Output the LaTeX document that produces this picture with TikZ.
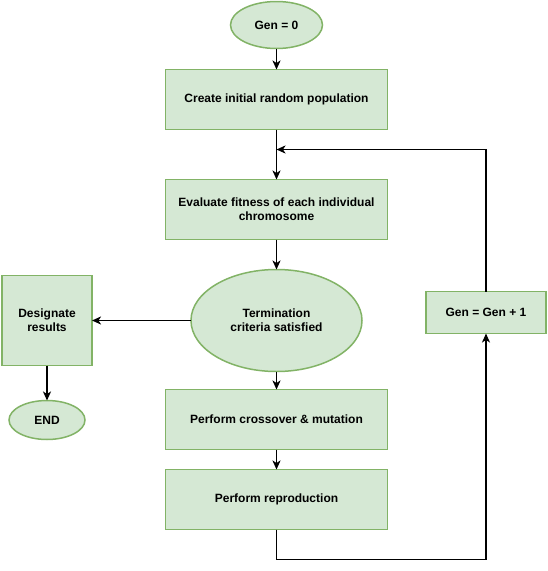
\documentclass[tikz,border=0pt]{standalone}
\usepackage{fontspec}
\setmainfont{Liberation Sans}
\usetikzlibrary{arrows.meta,shapes.geometric,positioning}
\definecolor{boxfill}{HTML}{D5E8D4}
\definecolor{boxline}{HTML}{82B366}

\begin{document}
\begin{tikzpicture}[->,>={Stealth[length=9pt,width=8pt,inset=2.5pt]},x=1pt,y=-1pt,line width=1.8pt,
                    font=\fontsize{12}{14}\selectfont\bfseries]

  \tikzstyle{proc}=[rectangle,draw=boxline,fill=boxfill,align=center,line width=1.5pt,
                    minimum width=222pt,minimum height=60pt,inner sep=0pt,outer sep=0pt]
  \tikzstyle{term}=[ellipse,draw=boxline,fill=boxfill,align=center,line width=1.5pt,
                    inner sep=0pt,outer sep=0pt]

  \useasboundingbox (0,0) rectangle (547,571);

  \node[term,minimum width=92pt,minimum height=47pt]  (GEN) at (276.5,25)      {Gen = 0};
  \node[proc]                                         (CRT) [below=21pt of GEN] {Create initial random population};
  \node[proc]                                         (EVL) [below=50pt of CRT] {Evaluate fitness of each individual \\ chromosome};
  \node[term,minimum width=171pt,minimum height=102pt] (TRM) [below=30pt of EVL] {Termination \\ criteria satisfied};
  \node[proc]                                         (CRS) [below=18pt of TRM] {Perform crossover \& mutation};
  \node[proc]                                         (REP) [below=20pt of CRS] {Perform reproduction};

  \node[proc,minimum width=90pt,minimum height=90pt]  (DSG) [left=99pt of TRM]  {Designate \\ results};
  \node[term,minimum width=76pt,minimum height=39pt]  (END) [below=35pt of DSG] {END};
  \node[proc,minimum width=120pt,minimum height=42pt] (INC) [right=64pt of TRM,yshift=8pt] {Gen = Gen + 1};

  \coordinate[below=20pt of CRT] (LOOP);

  \path
  (GEN) edge (CRT)
  (CRT) edge (EVL)
  (EVL) edge (TRM)
  (TRM) edge (DSG)
  (DSG) edge (END)
  (TRM) edge (CRS)
  (CRS) edge (REP)
  ;

  \draw (REP.south) -- ++(0,30) -| (INC.south);
  \draw (INC.north) |- (LOOP);
\end{tikzpicture}
\end{document}
